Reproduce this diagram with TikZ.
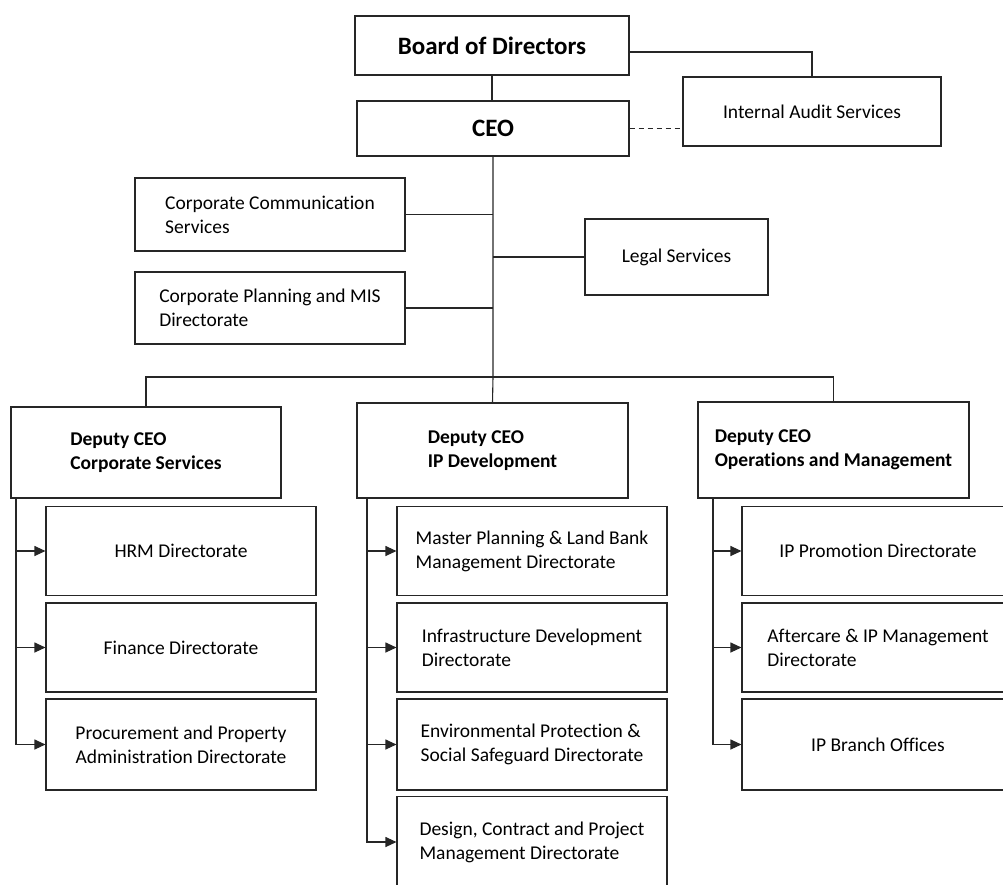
\documentclass[tikz,border=0pt]{standalone}
\usepackage{fontspec}
\setmainfont{Carlito}[Ligatures=NoCommon]
\usetikzlibrary{arrows.meta}

\begin{document}
\begin{tikzpicture}[x=1pt, y=-1pt, line width=1.1pt, draw=black!85]
        \tikzstyle{office}=[draw=black!85, rectangle, minimum width=270pt, minimum height=89pt, inner sep=0pt, font=\fontsize{19.5}{24}\selectfont]
        \tikzstyle{chief}=[office, font=\fontsize{25}{30}\selectfont\bfseries]
        \tikzstyle{deputy}=[office, align=left, font=\fontsize{19.5}{24}\selectfont\bfseries]
        \tikzset{link/.style={-{Triangle[length=11pt,width=10pt]}}}

        \clip (0,0) rectangle (1003,884);

        % top of the chart
        \node[chief, minimum width=274pt, minimum height=59pt] (Board) at (492,45.5) {Board of Directors};
        \node[chief, minimum width=272pt, minimum height=55pt] (CEO) at (493,128.5) {CEO};
        \node[office, minimum width=258pt, minimum height=69pt] (Audit) at (812,111.5) {Internal Audit Services};
        \node[office, align=left, minimum height=73pt] (Comm) at (270,214.5) {Corporate Communication\\Services};
        \node[office, minimum width=183pt, minimum height=76pt] (Legal) at (676.5,257) {Legal Services};
        \node[office, align=left, minimum height=72pt] (Plan) at (270,308) {Corporate Planning and MIS\\Directorate};

        % deputies
        \node[deputy, minimum height=91pt] (DCS) at (146,452.5) {Deputy CEO\\Corporate Services};
        \node[deputy, minimum width=271pt, minimum height=95pt] (DIP) at (492.5,450.5) {Deputy CEO\\IP Development};
        \node[deputy, minimum width=271pt, minimum height=96pt] (DOP) at (833.5,450) {Deputy CEO\\Operations and Management};

        % directorates
        \node[office, align=center] (CS_1) at (181,551) {HRM Directorate};
        \node[office, align=center] (CS_2) at (181,647.5) {Finance Directorate};
        \node[office, align=center, minimum height=91pt] (CS_3) at (181,744.5) {Procurement and Property\\Administration Directorate};

        \node[office, align=left] (IP_1) at (532,551) {Master Planning \& Land Bank\\Management Directorate};
        \node[office, align=left] (IP_2) at (532,647.5) {Infrastructure Development\\Directorate};
        \node[office, align=left, minimum height=91pt] (IP_3) at (532,744.5) {Environmental Protection \&\\Social Safeguard Directorate};
        \node[office, align=left, minimum height=91pt] (IP_4) at (532,842) {Design, Contract and Project\\Management Directorate};

        \node[office, minimum width=272pt] (OM_1) at (878,551) {IP Promotion Directorate};
        \node[office, align=left, minimum width=272pt] (OM_2) at (878,647.5) {Aftercare \& IP Management\\Directorate};
        \node[office, minimum width=272pt, minimum height=91pt] (OM_3) at (878,744.5) {IP Branch Offices};

        \coordinate (Bus) at (493,377);
        \coordinate (CS_spine) at (16,498);
        \coordinate (IP_spine) at (367,498);
        \coordinate (OM_spine) at (713,498);

        \draw (Board.south) -- (Board.south |- CEO.north);
        \draw (Board.east) ++(0,6.5) -| (Audit.north);
        \draw[dash pattern=on 5pt off 4pt] (CEO.east) -- (CEO.east -| Audit.west);
        \draw (CEO.south) -- (Bus) -- (DIP.north);
        \draw (Comm.east) -- (Comm.east -| CEO.south);
        \draw (Plan.east) -- (Plan.east -| CEO.south);
        \draw (Legal.west) -- (Legal.west -| CEO.south);
        \draw (DCS.north) |- (Bus) -| (DOP.north);

        \foreach \n in {CS_1,CS_2,CS_3}
            \draw[link] (CS_spine) |- (\n.west);
        \foreach \n in {IP_1,IP_2,IP_3,IP_4}
            \draw[link] (IP_spine) |- (\n.west);
        \foreach \n in {OM_1,OM_2,OM_3}
            \draw[link] (OM_spine) |- (\n.west);
    \end{tikzpicture}
\end{document}
